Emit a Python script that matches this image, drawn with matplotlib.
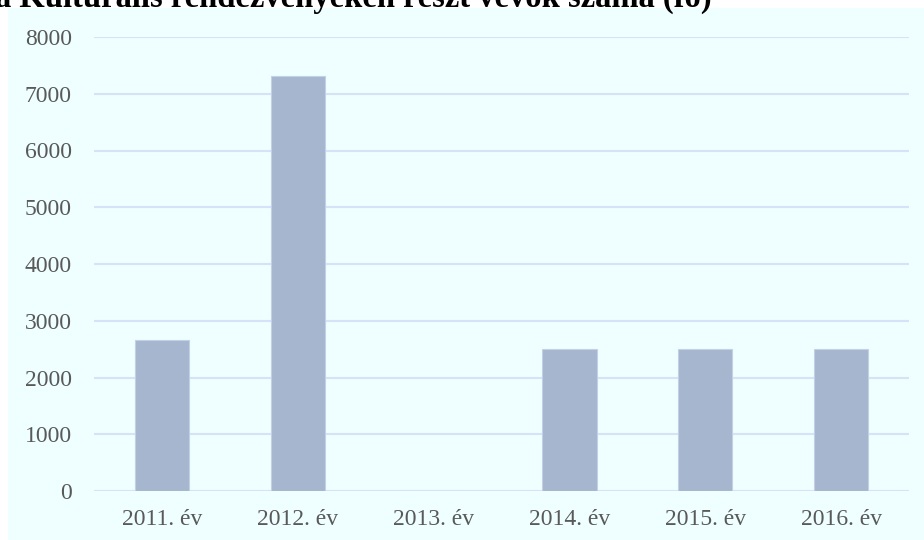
import matplotlib.pyplot as plt
from matplotlib.patches import Rectangle

# data
years = ['2011. év', '2012. év', '2013. év', '2014. év', '2015. év', '2016. év']
visitors = [2660, 7310, 0, 2500, 2500, 2500]
y_ticks = [0, 1000, 2000, 3000, 4000, 5000, 6000, 7000, 8000]
title = 'a Kulturális rendezvényeken részt vevők száma (fő)'

bg_color = '#EFFFFF'
bar_color = '#A5B6CE'
grid_color = '#D6E2F8'
text_color = '#595959'

plt.rcParams['font.family'] = ['Liberation Serif', 'DejaVu Serif']

fig = plt.figure(figsize=(9.24, 5.4), dpi=100)
fig.patch.set_facecolor('white')

# light cyan chart area (starts a few pixels in from the top/left)
fig.patches.append(Rectangle((8 / 924, 0), 1 - 8 / 924, 1 - 8 / 540,
                             transform=fig.transFigure, facecolor=bg_color,
                             edgecolor='none', zorder=-5))

# title, clipped at the very top as in the source image
fig.text(712 / 924, 1 - 7 / 540, title, ha='right', va='baseline',
         fontsize=23.5, fontweight='bold', color='black', zorder=5)

ax = fig.add_axes([94 / 924, 1 - 491 / 540, (909 - 94) / 924, (491 - 37) / 540])
ax.set_facecolor('none')

x = range(len(years))
ax.bar(x, visitors, width=0.4, color=bar_color, edgecolor='#C3D0E6',
       linewidth=0.8, zorder=3)

ax.set_xlim(-0.5, len(years) - 0.5)
ax.set_ylim(0, 8000)
ax.set_yticks(y_ticks)
ax.set_xticks(list(x))
ax.set_xticklabels(years)
ax.yaxis.grid(True, color=grid_color, linewidth=1.5, zorder=0)
ax.set_axisbelow(True)

for s in ax.spines.values():
    s.set_visible(False)
ax.tick_params(axis='both', length=0, labelsize=17, labelcolor=text_color)
ax.tick_params(axis='y', pad=16)
ax.tick_params(axis='x', pad=13)

plt.savefig('out.png', dpi=100)
